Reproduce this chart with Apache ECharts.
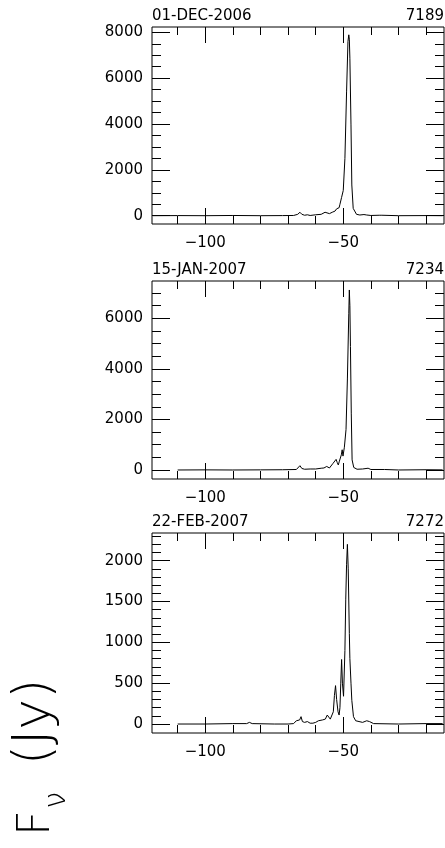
<!DOCTYPE html>
<html><head><meta charset="utf-8">
<script src="https://cdn.jsdelivr.net/npm/echarts@6/dist/echarts.min.js"></script>
<style>html,body{margin:0;padding:0;background:#fff}#c{width:445px;height:848px}</style>
</head><body><div id="c"></div>
<script>
// ---- data ----
const dates = ['01-DEC-2006', '15-JAN-2007', '22-FEB-2007'];
const ids = ['7189', '7234', '7272'];

const vel1 = [-119,-110,-100,-90,-80,-72,-68,-66.5,-65.7,-65,-64,-63,-62,-60,-58,-56.6,-56,-55,-54,-53.6,-53,-52.4,-52,-51.5,-51.2,-50.6,-50,-49.4,-48.8,-48.3,-48.0,-47.8,-47.6,-47.2,-46.9,-46.4,-45.2,-44,-42.5,-41.5,-40,-37,-36.5,-36,-30,-20,-14];
const flux1 = [0,5,0,10,0,5,10,60,150,60,20,40,10,40,60,150,80,90,150,230,200,300,280,350,500,800,1100,2500,5400,7600,7890,7700,6870,3960,1340,320,60,30,50,30,10,20,70,20,0,5,0];

const vel2 = [-110,-100,-90,-80,-72,-67,-66.3,-65.7,-65,-64,-62,-60,-58,-57,-56,-55,-54.3,-53.8,-53.4,-52.6,-52.2,-51.8,-51.4,-51.1,-50.7,-50.4,-50.1,-49.6,-49.0,-48.5,-48.0,-47.8,-47.6,-47.4,-47.1,-46.8,-46.2,-45,-43,-41,-40,-35,-30,-20,-14];
const flux2 = [0,5,0,5,10,20,60,170,60,30,40,40,70,80,140,80,150,250,200,420,300,200,350,420,600,800,550,900,1600,3600,6200,7120,6500,4880,2250,400,100,30,40,70,20,20,0,10,5];

const vel3 = [-110,-100,-90,-85,-84,-83,-75,-70,-68,-67,-66.5,-65.8,-65.3,-64.8,-64,-63,-62,-61,-60,-59,-57.5,-56.5,-55.8,-55.2,-54.7,-54.2,-53.6,-53.2,-52.8,-52.4,-51.9,-51.5,-51.2,-50.9,-50.6,-50.3,-49.9,-49.4,-49.1,-48.8,-48.5,-48.2,-47.8,-47.6,-47.2,-46.9,-46.3,-45.5,-43,-41.5,-40.5,-39,-30,-20,-14];
const flux3 = [0,0,5,5,20,5,0,0,5,40,20,50,90,30,20,30,10,10,20,40,50,60,110,100,60,80,150,350,470,300,150,110,200,500,790,500,340,900,1520,1950,2200,1900,1110,800,500,290,90,40,20,40,30,5,0,5,5];

const xMajorTicks = [-100, -50];
const xMinorTicks = [-110, -90, -80, -70, -60, -40, -30, -20];
const yMajor1 = [0, 2000, 4000, 6000, 8000];
const yMinor1 = [500, 1000, 1500, 2500, 3000, 3500, 4500, 5000, 5500, 6500, 7000, 7500];
const yMajor2 = [0, 2000, 4000, 6000];
const yMinor2 = [500, 1000, 1500, 2500, 3000, 3500, 4500, 5000, 5500, 6500, 7000];
const yMajor3 = [0, 500, 1000, 1500, 2000];
const yMinor3 = [100, 200, 300, 400, 600, 700, 800, 900, 1100, 1200, 1300, 1400, 1600, 1700, 1800, 1900, 2100, 2200, 2300];

// ---- layout ----
const FONT = 'DejaVu Sans';
const xMin = -119.3, xMax = -13.5;
const panels = [
  { top: 27, height: 197, ymin: -362, ymax: 8231, major: yMajor1, minor: yMinor1, vel: vel1, flux: flux1 },
  { top: 281, height: 198, ymin: -356, ymax: 7475, major: yMajor2, minor: yMinor2, vel: vel2, flux: flux2 },
  { top: 533, height: 200, ymin: -110, ymax: 2339, major: yMajor3, minor: yMinor3, vel: vel3, flux: flux3 }
];

const grid = [], xAxis = [], yAxis = [], series = [], graphic = [];
const tickStyle = { color: '#000', width: 1 };
panels.forEach((p, i) => {
  grid.push({ left: 152, width: 292, top: p.top, height: p.height, show: true, borderColor: '#000', borderWidth: 1, backgroundColor: 'transparent' });
  const xb = { gridIndex: i, type: 'value', min: xMin, max: xMax, splitLine: { show: false }, axisLine: { show: false, onZero: false } };
  xAxis.push(Object.assign({}, xb, { position: 'bottom',
    axisTick: { inside: true, length: 16, customValues: xMajorTicks, lineStyle: tickStyle },
    axisLabel: { customValues: xMajorTicks, formatter: v => String(v).replace('-', '\u2212'), color: '#000', fontSize: 15, fontFamily: FONT, margin: 12 } }));
  xAxis.push(Object.assign({}, xb, { position: 'bottom',
    axisTick: { inside: true, length: 8, customValues: xMinorTicks, lineStyle: tickStyle }, axisLabel: { show: false } }));
  xAxis.push(Object.assign({}, xb, { position: 'top',
    axisTick: { inside: true, length: 16, customValues: xMajorTicks, lineStyle: tickStyle }, axisLabel: { show: false } }));
  xAxis.push(Object.assign({}, xb, { position: 'top',
    axisTick: { inside: true, length: 8, customValues: xMinorTicks, lineStyle: tickStyle }, axisLabel: { show: false } }));
  const yb = { gridIndex: i, type: 'value', min: p.ymin, max: p.ymax, splitLine: { show: false }, axisLine: { show: false, onZero: false } };
  yAxis.push(Object.assign({}, yb, { position: 'left',
    axisTick: { inside: true, length: 18, customValues: p.major, lineStyle: tickStyle },
    axisLabel: { customValues: p.major, formatter: v => String(v), color: '#000', fontSize: 15, fontFamily: FONT, margin: 9 } }));
  yAxis.push(Object.assign({}, yb, { position: 'left',
    axisTick: { inside: true, length: 9, customValues: p.minor, lineStyle: tickStyle }, axisLabel: { show: false } }));
  yAxis.push(Object.assign({}, yb, { position: 'right',
    axisTick: { inside: true, length: 18, customValues: p.major, lineStyle: tickStyle }, axisLabel: { show: false } }));
  yAxis.push(Object.assign({}, yb, { position: 'right',
    axisTick: { inside: true, length: 9, customValues: p.minor, lineStyle: tickStyle }, axisLabel: { show: false } }));
  series.push({ type: 'line', xAxisIndex: i * 4, yAxisIndex: i * 4, showSymbol: false, symbol: 'none',
    lineStyle: { color: '#000', width: 1 }, data: p.vel.map((v, k) => [v, p.flux[k]]), clip: true });
  graphic.push({ type: 'text', left: 152, top: p.top - 18, style: { text: dates[i], fill: '#000', font: '15px "DejaVu Sans"' } });
  graphic.push({ type: 'text', right: 1, top: p.top - 18, style: { text: ids[i], fill: '#000', font: '15px "DejaVu Sans"' } });
});

// y-axis title  F_nu (Jy), rotated
graphic.push({ type: 'text', x: 60, y: 823, rotation: Math.PI / 2,
  style: { text: 'F', fill: '#000', font: '200 44px "DejaVu Sans"', textAlign: 'center', textVerticalAlign: 'bottom' } });
graphic.push({ type: 'text', x: 72, y: 800, rotation: Math.PI / 2,
  style: { text: '\u03bd', fill: '#000', font: '200 30px "DejaVu Sans"', textAlign: 'center', textVerticalAlign: 'bottom' } });
graphic.push({ type: 'text', x: 35, y: 722, rotation: Math.PI / 2,
  style: { text: '(Jy)', fill: '#000', font: '200 52px "DejaVu Sans"', textAlign: 'center', textVerticalAlign: 'middle' } });

const chart = echarts.init(document.getElementById('c'), null, { renderer: 'canvas' });
chart.setOption({ animation: false, backgroundColor: '#fff', grid, xAxis, yAxis, series, graphic });
</script>
</body></html>
